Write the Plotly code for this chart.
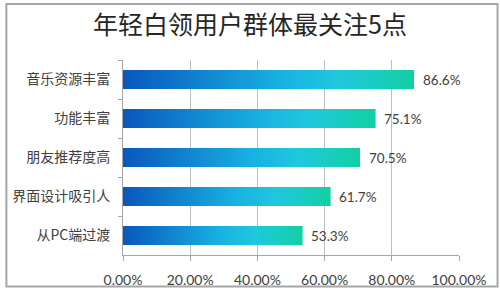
import plotly.graph_objects as go

categories = ["音乐资源丰富", "功能丰富", "朋友推荐度高", "界面设计吸引人", "从PC端过渡"]
values = [86.6, 75.1, 70.5, 61.7, 53.3]
value_labels = ["86.6%", "75.1%", "70.5%", "61.7%", "53.3%"]
title_text = "年轻白领用户群体最关注5点"

# gradient stops (position, rgb)
stops = [(0.0, (10, 88, 190)), (0.55, (24, 178, 226)), (0.75, (32, 200, 222)), (1.0, (18, 208, 164))]

def grad(t):
    for (p0, c0), (p1, c1) in zip(stops[:-1], stops[1:]):
        if p0 <= t <= p1:
            f = (t - p0) / (p1 - p0) if p1 > p0 else 0
            c = [round(a + (b - a) * f) for a, b in zip(c0, c1)]
            return "rgb(%d,%d,%d)" % tuple(c)
    return "rgb(%d,%d,%d)" % stops[-1][1]

N = 60
fig = go.Figure()
for k in range(N):
    col = grad(k / (N - 1))
    fig.add_trace(go.Bar(
        y=categories, x=[v / N for v in values], orientation="h",
        marker=dict(color=col, line=dict(color=col, width=0.6)),
        width=0.48, showlegend=False, hoverinfo="skip"))

for c, v, t in zip(categories, values, value_labels):
    fig.add_annotation(x=v, y=c, text=t, showarrow=False, xanchor="left",
                       xshift=7, font=dict(family="Lato, Noto Sans", size=13.5, color="#404040"))

# outer frame
fig.add_shape(type="rect", xref="paper", yref="paper",
              x0=(1 - 119) / 340, x1=(498 - 119) / 340,
              y0=-(298 - 265) / 205, y1=1 + (60 - 1) / 205,
              line=dict(color="#a6a6a6", width=2), fillcolor="rgba(0,0,0,0)", layer="below")

fig.update_layout(
    width=500, height=300, barmode="stack",
    margin=dict(l=119, r=41, t=60, b=35),
    paper_bgcolor="white", plot_bgcolor="white",
    title=dict(text=title_text, x=0.5, xanchor="center", y=1 - 25 / 300, yanchor="middle",
               yref="container",
               font=dict(family="Noto Sans CJK SC", size=25, color="#262626")),
    xaxis=dict(range=[0, 100], dtick=20, tickformat=".2f", ticksuffix="%",
               showgrid=True, gridcolor="#bfbfbf", gridwidth=1,
               showline=True, linecolor="#a6a6a6", ticks="outside", ticklen=5,
               tickcolor="#a6a6a6", zeroline=False, ticklabelstandoff=7,
               tickfont=dict(family="Lato, Noto Sans", size=14, color="#404040")),
    yaxis=dict(autorange="reversed", showline=True, linecolor="#a6a6a6",
               ticks="outside", ticklen=4, tickcolor="#a6a6a6", tickson="boundaries",
               showgrid=False, ticklabelstandoff=9,
               tickfont=dict(family="Noto Sans CJK SC", size=14, color="#404040")),
)

fig.write_html("out.html")
